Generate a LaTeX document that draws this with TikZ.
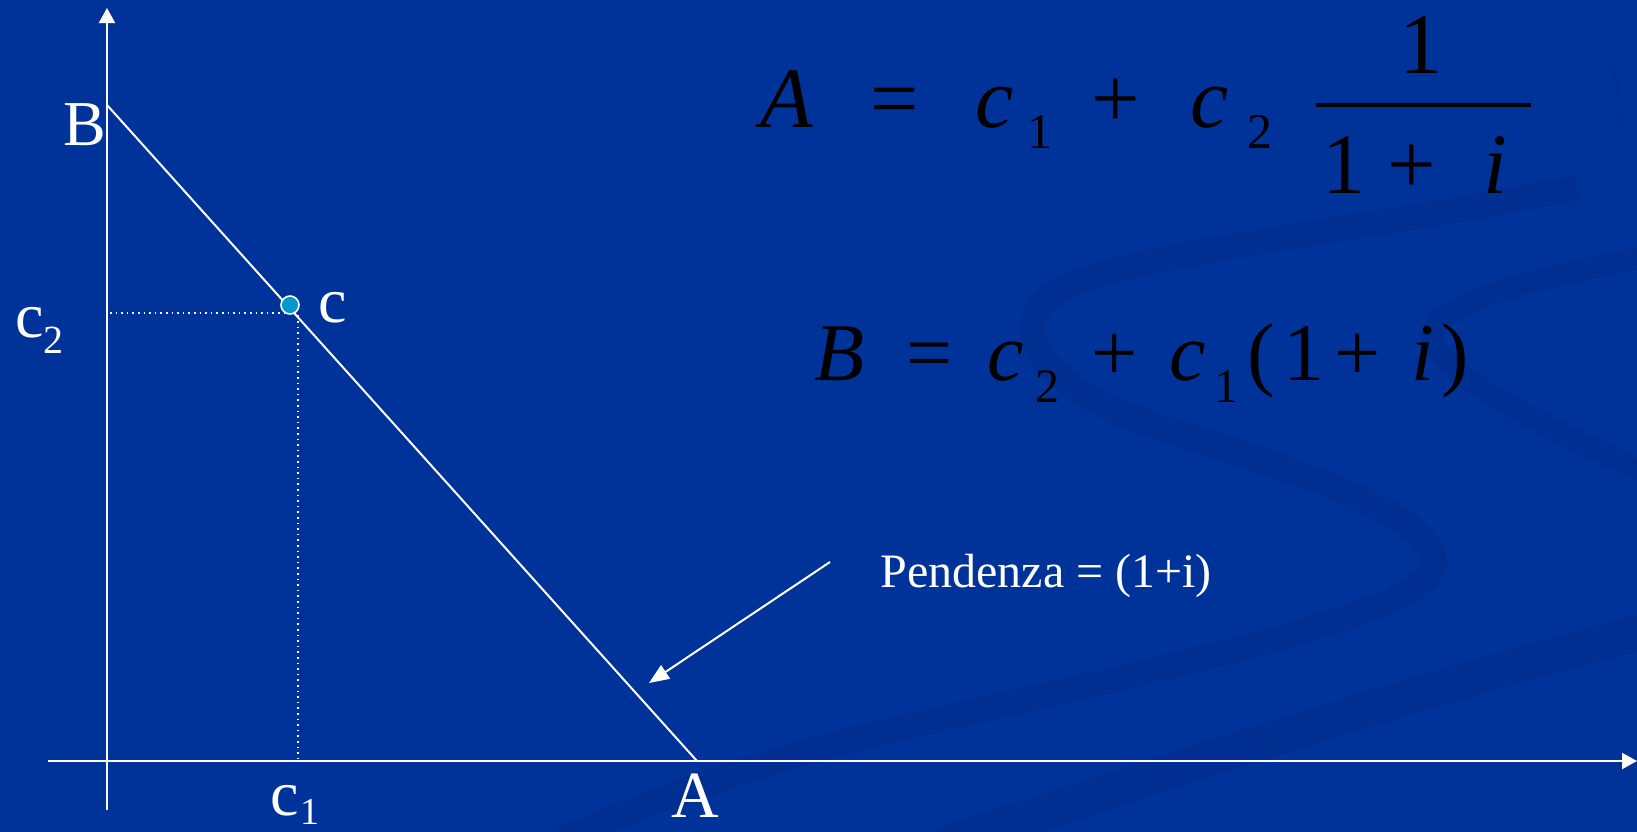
\documentclass[tikz,border=0pt]{standalone}
\usepackage{fontspec}
\setmainfont{Liberation Serif}
\usetikzlibrary{arrows.meta}
\definecolor{bg}{RGB}{0,51,153}
\definecolor{swoosh}{RGB}{0,47,145}
\definecolor{dotc}{RGB}{0,153,204}
\tikzset{
  lbl/.style={inner sep=0pt, anchor=base west, text=white},
  eq/.style={inner sep=0pt, anchor=base west, text=black},
  wline/.style={draw=white, line width=1pt},
  axis/.style={draw=white, line width=1.1pt, -{Triangle[length=7.5pt,width=8pt]}},
  guide/.style={draw=white, line width=0.8pt, dotted},
  band/.style={draw=swoosh, line cap=butt},
}
\newcommand{\fsz}[1]{\fontsize{#1}{#1}\selectfont}
\begin{document}
\begin{tikzpicture}[x=0.5pt, y=-0.5pt]
\useasboundingbox (0,0) rectangle (1637,831);
\clip (0,0) rectangle (1637,831);
\fill[bg] (-10,-10) rectangle (1647,841);
% background swooshes
\draw[band, line width=0.8pt] (1600,40) .. controls (1640,110) and (1610,170) .. (1577,187);
\draw[band, line width=13pt] (1577,187) .. controls (1400,225) and (1150,250) .. (1070,285)
   .. controls (1010,315) and (1020,360) .. (1111,410)
   .. controls (1250,460) and (1420,500) .. (1435,560)
   .. controls (1440,610) and (1200,660) .. (879,733)
   .. controls (750,765) and (650,800) .. (540,850);
\draw[band, line width=11pt] (1650,256) .. controls (1530,280) and (1440,300) .. (1432,335)
   .. controls (1430,370) and (1550,430) .. (1650,475);
\draw[band, line width=18pt] (1650,630) .. controls (1450,680) and (1200,760) .. (930,850);
% points
\coordinate (Ytop) at (107,8);
\coordinate (Ybot) at (107,810);
\coordinate (Xl) at (48,761);
\coordinate (Xr) at (1637,761);
\coordinate (B) at (107,105);
\coordinate (A) at (697,761);
\coordinate (C2) at (110,313);
\coordinate (Cc) at (298,313);
\coordinate (C1) at (298,759);
\coordinate (Ps) at (830,562);
\coordinate (Pe) at (649,683);
% axes
\draw[axis] (Ybot) -- (Ytop);
\draw[axis] (Xl) -- (Xr);
% budget line
\draw[wline] (B) -- (A);
% guides
\draw[guide] (C2) -- (Cc) -- (C1);
% point c
\node[circle, fill=dotc, draw=white, line width=0.8pt, minimum size=9pt, inner sep=0pt] (pc) at (290,305) {};
% pointer arrow
\draw[wline, -{Triangle[length=10pt,width=8pt]}] (Ps) -- (Pe);
% labels
\node[lbl] (lB) at (63,145) {\fsz{32}B};
\node[lbl] (lc) at (318,322) {\fsz{32}c};
\node[lbl] (lc2) at (15,337) {\fsz{32}c};
\node[lbl] (lc2s) at (43,353) {\fsz{20}2};
\node[lbl] (lc1) at (270,815) {\fsz{32}c};
\node[lbl] (lc1s) at (300,824) {\fsz{19}1};
\node[lbl] (lA) at (671,817) {\fsz{33}A};
\node[lbl] (pend) at (880,587) {\fsz{24}Pendenza = (1+i)};
% equation A
\node[eq] (e1a) at (760,127) {\fsz{43}\itshape A};
\node[eq] (e1b) at (870,127) {\fsz{43}=};
\node[eq] (e1c) at (975,127) {\fsz{43}\itshape c};
\node[eq] (e1d) at (1027,148) {\fsz{25}1};
\node[eq] (e1e) at (1091,127) {\fsz{43}+};
\node[eq] (e1f) at (1190,127) {\fsz{43}\itshape c};
\node[eq] (e1g) at (1247,148) {\fsz{25}2};
\coordinate (barL) at (1316,105);
\coordinate (barR) at (1531,105);
\draw[black, line width=1.7pt] (barL) -- (barR);
\node[eq] (e1n) at (1399,73) {\fsz{43}1};
\node[eq] (e1d1) at (1322,193) {\fsz{43}1};
\node[eq] (e1d2) at (1387,193) {\fsz{43}+};
\node[eq] (e1d3) at (1483,193) {\fsz{43}\itshape i};
% equation B
\node[eq] (e2a) at (814,380) {\fsz{41}\itshape B};
\node[eq] (e2b) at (906,380) {\fsz{41}=};
\node[eq] (e2c) at (987,380) {\fsz{41}\itshape c};
\node[eq] (e2d) at (1035,402) {\fsz{24}2};
\node[eq] (e2e) at (1091,380) {\fsz{41}+};
\node[eq] (e2f) at (1169,380) {\fsz{41}\itshape c};
\node[eq] (e2g) at (1214,402) {\fsz{24}1};
\node[eq] (e2h) at (1247,380) {\fsz{41}(};
\node[eq] (e2i) at (1283,380) {\fsz{41}1};
\node[eq] (e2j) at (1334,380) {\fsz{41}+};
\node[eq] (e2k) at (1411,380) {\fsz{41}\itshape i};
\node[eq] (e2l) at (1441,380) {\fsz{41})};
\end{tikzpicture}
\end{document}
